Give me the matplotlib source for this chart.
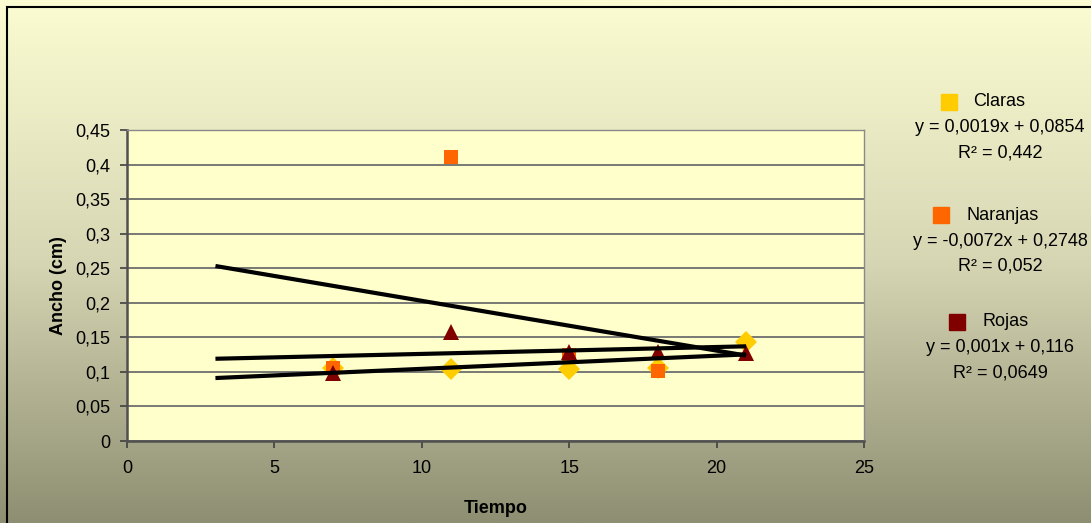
import numpy as np
import matplotlib
matplotlib.use("Agg")
import matplotlib.pyplot as plt
from matplotlib.colors import LinearSegmentedColormap
from matplotlib.patches import Rectangle

plt.rcParams["font.family"] = ["Liberation Sans", "DejaVu Sans"]

# data
claras_x = [7, 11, 15, 18, 21]
claras_y = [0.106, 0.104, 0.104, 0.105, 0.143]
naranjas_x = [7, 11, 15, 18]
naranjas_y = [0.105, 0.411, 0.124, 0.101]
rojas_x = [7, 11, 15, 18, 21]
rojas_y = [0.099, 0.158, 0.129, 0.129, 0.128]

# trendlines (slope, intercept, r2) as printed on the chart
names = ["Claras", "Naranjas", "Rojas"]
slopes = [0.0019, -0.0072, 0.001]
intercepts = [0.0854, 0.2748, 0.116]
r2 = ["0,442", "0,052", "0,0649"]
eq_text = ["y = 0,0019x + 0,0854", "y = -0,0072x + 0,2748", "y = 0,001x + 0,116"]
trend_x = [3, 21]

colors = ["#FFCC00", "#FF6600", "#800000"]
markers = ["D", "s", "^"]
msizes = [11, 9.5, 11]

W, H = 1091, 523
fig = plt.figure(figsize=(W / 100, H / 100), dpi=100)

# gradient background
bg = fig.add_axes([0, 0, 1, 1], zorder=-10)
cmap = LinearSegmentedColormap.from_list("bg", ["#FCFCD2", "#D6D6B4", "#8E8E72"])
bg.imshow(np.linspace(0, 1, 256).reshape(-1, 1), aspect="auto", cmap=cmap,
          extent=[0, 1, 0, 1], origin="upper")
bg.set_axis_off()
fig.add_artist(Rectangle((7 / W, -0.1), 1.2, 1 - 7 / H + 0.1, transform=fig.transFigure,
                         fill=False, edgecolor="black", linewidth=1.5))

ax = fig.add_axes([127 / W, 1 - 441 / H, (864 - 127) / W, (441 - 130) / H])
ax.set_facecolor("#FFFFCC")
ax.set_xlim(0, 25)
ax.set_ylim(0, 0.45)

yt = np.arange(0, 0.451, 0.05)
ax.set_yticks(yt)
ax.set_yticklabels(["0"] + [f"{v:.2f}".rstrip("0").replace(".", ",") for v in yt[1:]])
ax.set_xticks([0, 5, 10, 15, 20, 25])
ax.yaxis.grid(True, color="#6E6E6E", linewidth=1.3)
ax.set_axisbelow(True)
ax.tick_params(labelsize=13, length=5, color="#404040", width=1.2)
ax.tick_params(axis="x", pad=9)
ax.tick_params(axis="y", pad=7)
for s in ["left", "bottom"]:
    ax.spines[s].set_color("#505050")
    ax.spines[s].set_linewidth(1.8)
for s in ["top", "right"]:
    ax.spines[s].set_color("#8A8A8A")
    ax.spines[s].set_linewidth(1)

ax.set_ylabel("Ancho (cm)", fontsize=13, fontweight="bold", labelpad=6)
ax.set_xlabel("Tiempo", fontsize=13, fontweight="bold", labelpad=16)

series = [(claras_x, claras_y), (naranjas_x, naranjas_y), (rojas_x, rojas_y)]
for (xs, ys), c, m, ms in zip(series, colors, markers, msizes):
    ax.plot(xs, ys, linestyle="none", marker=m, markersize=ms, color=c,
            markeredgewidth=0, zorder=3, clip_on=False)

tx = np.array(trend_x)
for a, b in zip(slopes, intercepts):
    ax.plot(tx, a * tx + b, color="black", linewidth=3, zorder=4,
            solid_capstyle="butt")

# legend block on the right
name_y = [102, 215, 322]
square_x = [949, 941, 957]
text_x = [973, 966, 982]
for i in range(3):
    y0 = name_y[i]
    fig.add_artist(Rectangle(((square_x[i] - 8) / W, 1 - (y0 + 8) / H), 16 / W, 16 / H,
                             transform=fig.transFigure, color=colors[i]))
    fig.text(text_x[i] / W, 1 - y0 / H, names[i], fontsize=13, va="center")
    fig.text(1000 / W, 1 - (y0 + 26) / H, eq_text[i], fontsize=13, va="center", ha="center")
    fig.text(1000 / W, 1 - (y0 + 51) / H, "R² = " + r2[i], fontsize=13, va="center",
             ha="center")

fig.savefig("out.png", dpi=100)
